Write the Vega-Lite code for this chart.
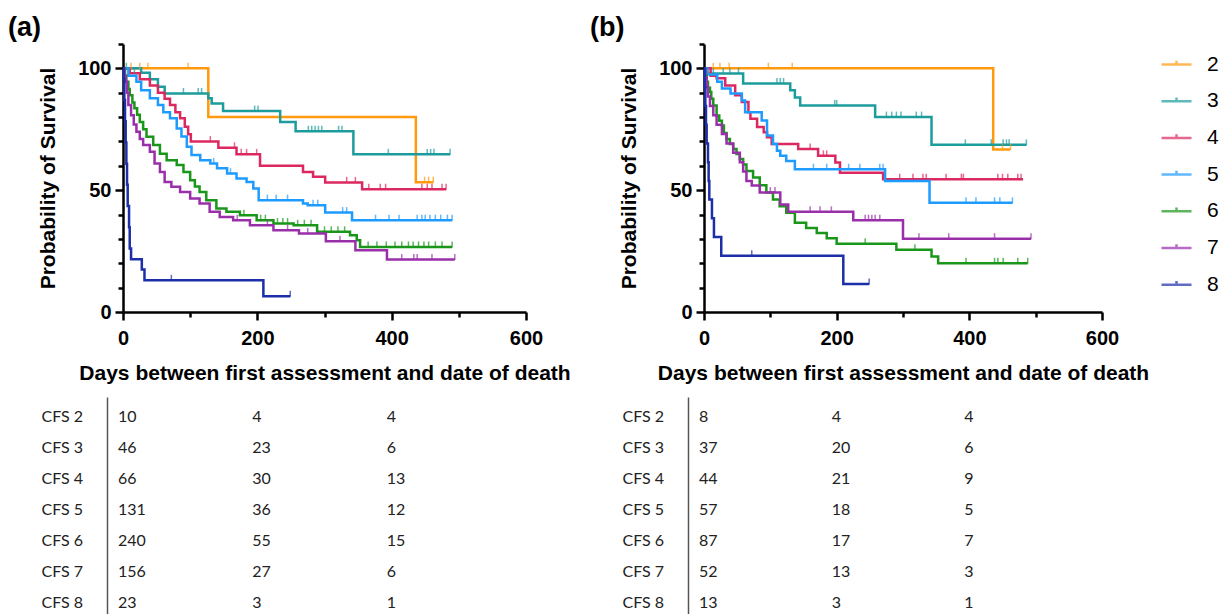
{
  "$schema": "https://vega.github.io/schema/vega-lite/v6.json",
  "background": "white",
  "padding": {"left": 8, "top": 14, "right": 0, "bottom": 0},
  "config": {
    "view": {"stroke": null},
    "font": "Liberation Sans",
    "axis": {
      "domainColor": "black", "tickColor": "black", "domainWidth": 2.5, "tickWidth": 2.5,
      "labelFont": "Liberation Sans", "labelFontWeight": "bold", "labelFontSize": 20, "labelColor": "black",
      "titleFont": "Liberation Sans", "titleFontWeight": "bold", "titleFontSize": 21, "titleColor": "black",
      "grid": false, "labelOverlap": false, "labelFlush": false
    },
    "title": {"font": "Liberation Sans", "fontWeight": "bold", "fontSize": 27, "color": "black", "anchor": "start", "frame": "group"}
  },
  "datasets": {
    "curves": [
      {"panel":"a","cfs":"2","day":0,"surv":100},{"panel":"a","cfs":"2","day":127,"surv":80},{"panel":"a","cfs":"2","day":436,"surv":53.3},{"panel":"a","cfs":"2","day":462,"surv":53.3},
      {"panel":"a","cfs":"3","day":0,"surv":100},{"panel":"a","cfs":"3","day":27,"surv":98.2},{"panel":"a","cfs":"3","day":40,"surv":95.5},{"panel":"a","cfs":"3","day":52,"surv":92.5},{"panel":"a","cfs":"3","day":62,"surv":89.7},{"panel":"a","cfs":"3","day":127,"surv":87.7},{"panel":"a","cfs":"3","day":132,"surv":85.6},{"panel":"a","cfs":"3","day":149,"surv":82.5},{"panel":"a","cfs":"3","day":234,"surv":78},{"panel":"a","cfs":"3","day":257,"surv":74.2},{"panel":"a","cfs":"3","day":343,"surv":64.7},{"panel":"a","cfs":"3","day":487,"surv":64.7},
      {"panel":"a","cfs":"4","day":0,"surv":100},{"panel":"a","cfs":"4","day":10,"surv":98},{"panel":"a","cfs":"4","day":25,"surv":95.5},{"panel":"a","cfs":"4","day":40,"surv":93},{"panel":"a","cfs":"4","day":52,"surv":90},{"panel":"a","cfs":"4","day":62,"surv":87.5},{"panel":"a","cfs":"4","day":70,"surv":85},{"panel":"a","cfs":"4","day":78,"surv":82},{"panel":"a","cfs":"4","day":85,"surv":79.5},{"panel":"a","cfs":"4","day":92,"surv":76},{"panel":"a","cfs":"4","day":97,"surv":73},{"panel":"a","cfs":"4","day":101,"surv":70},{"panel":"a","cfs":"4","day":142,"surv":67.4},{"panel":"a","cfs":"4","day":169,"surv":64.7},{"panel":"a","cfs":"4","day":204,"surv":60},{"panel":"a","cfs":"4","day":268,"surv":57.5},{"panel":"a","cfs":"4","day":283,"surv":55.5},{"panel":"a","cfs":"4","day":301,"surv":53.2},{"panel":"a","cfs":"4","day":356,"surv":50.4},{"panel":"a","cfs":"4","day":481,"surv":50.4},
      {"panel":"a","cfs":"5","day":0,"surv":100},{"panel":"a","cfs":"5","day":8,"surv":97},{"panel":"a","cfs":"5","day":20,"surv":94.5},{"panel":"a","cfs":"5","day":27,"surv":91},{"panel":"a","cfs":"5","day":40,"surv":87.7},{"panel":"a","cfs":"5","day":52,"surv":85},{"panel":"a","cfs":"5","day":60,"surv":82},{"panel":"a","cfs":"5","day":70,"surv":79.5},{"panel":"a","cfs":"5","day":80,"surv":75.3},{"panel":"a","cfs":"5","day":87,"surv":72},{"panel":"a","cfs":"5","day":95,"surv":67.8},{"panel":"a","cfs":"5","day":102,"surv":64.4},{"panel":"a","cfs":"5","day":115,"surv":62.3},{"panel":"a","cfs":"5","day":130,"surv":61},{"panel":"a","cfs":"5","day":140,"surv":59},{"panel":"a","cfs":"5","day":155,"surv":56.8},{"panel":"a","cfs":"5","day":169,"surv":54.8},{"panel":"a","cfs":"5","day":184,"surv":53.4},{"panel":"a","cfs":"5","day":194,"surv":50.7},{"panel":"a","cfs":"5","day":202,"surv":45.9},{"panel":"a","cfs":"5","day":268,"surv":44.5},{"panel":"a","cfs":"5","day":275,"surv":43.8},{"panel":"a","cfs":"5","day":301,"surv":40.8},{"panel":"a","cfs":"5","day":341,"surv":37.7},{"panel":"a","cfs":"5","day":490,"surv":37.7},
      {"panel":"a","cfs":"6","day":0,"surv":100},{"panel":"a","cfs":"6","day":3,"surv":97},{"panel":"a","cfs":"6","day":5,"surv":94.5},{"panel":"a","cfs":"6","day":8,"surv":91.5},{"panel":"a","cfs":"6","day":10,"surv":89},{"panel":"a","cfs":"6","day":14,"surv":86},{"panel":"a","cfs":"6","day":17,"surv":83.6},{"panel":"a","cfs":"6","day":21,"surv":81},{"panel":"a","cfs":"6","day":25,"surv":78},{"panel":"a","cfs":"6","day":30,"surv":75},{"panel":"a","cfs":"6","day":35,"surv":71.9},{"panel":"a","cfs":"6","day":45,"surv":68.5},{"panel":"a","cfs":"6","day":55,"surv":65},{"panel":"a","cfs":"6","day":65,"surv":62.3},{"panel":"a","cfs":"6","day":80,"surv":60.3},{"panel":"a","cfs":"6","day":90,"surv":57.5},{"panel":"a","cfs":"6","day":100,"surv":54.1},{"panel":"a","cfs":"6","day":107,"surv":51.5},{"panel":"a","cfs":"6","day":114,"surv":49.3},{"panel":"a","cfs":"6","day":124,"surv":45.9},{"panel":"a","cfs":"6","day":139,"surv":42.5},{"panel":"a","cfs":"6","day":154,"surv":41.1},{"panel":"a","cfs":"6","day":174,"surv":39.7},{"panel":"a","cfs":"6","day":199,"surv":37.7},{"panel":"a","cfs":"6","day":224,"surv":36.3},{"panel":"a","cfs":"6","day":254,"surv":35.6},{"panel":"a","cfs":"6","day":289,"surv":32.9},{"panel":"a","cfs":"6","day":338,"surv":31.5},{"panel":"a","cfs":"6","day":348,"surv":29.5},{"panel":"a","cfs":"6","day":353,"surv":26.7},{"panel":"a","cfs":"6","day":490,"surv":26.7},
      {"panel":"a","cfs":"7","day":0,"surv":100},{"panel":"a","cfs":"7","day":2,"surv":97},{"panel":"a","cfs":"7","day":4,"surv":94.5},{"panel":"a","cfs":"7","day":6,"surv":90},{"panel":"a","cfs":"7","day":8,"surv":85},{"panel":"a","cfs":"7","day":12,"surv":80.8},{"panel":"a","cfs":"7","day":16,"surv":77},{"panel":"a","cfs":"7","day":20,"surv":74},{"panel":"a","cfs":"7","day":25,"surv":71},{"panel":"a","cfs":"7","day":30,"surv":68.5},{"panel":"a","cfs":"7","day":40,"surv":65.8},{"panel":"a","cfs":"7","day":47,"surv":61},{"panel":"a","cfs":"7","day":55,"surv":57.5},{"panel":"a","cfs":"7","day":62,"surv":53.4},{"panel":"a","cfs":"7","day":72,"surv":51.4},{"panel":"a","cfs":"7","day":85,"surv":49.3},{"panel":"a","cfs":"7","day":100,"surv":46.6},{"panel":"a","cfs":"7","day":114,"surv":44.5},{"panel":"a","cfs":"7","day":129,"surv":41.1},{"panel":"a","cfs":"7","day":144,"surv":39},{"panel":"a","cfs":"7","day":164,"surv":37.7},{"panel":"a","cfs":"7","day":189,"surv":35.6},{"panel":"a","cfs":"7","day":224,"surv":33.6},{"panel":"a","cfs":"7","day":262,"surv":32.2},{"panel":"a","cfs":"7","day":302,"surv":29},{"panel":"a","cfs":"7","day":346,"surv":25.3},{"panel":"a","cfs":"7","day":393,"surv":21.5},{"panel":"a","cfs":"7","day":494,"surv":21.5},
      {"panel":"a","cfs":"8","day":0,"surv":100},{"panel":"a","cfs":"8","day":1,"surv":95.7},{"panel":"a","cfs":"8","day":2,"surv":87},{"panel":"a","cfs":"8","day":3,"surv":78.3},{"panel":"a","cfs":"8","day":4,"surv":69.6},{"panel":"a","cfs":"8","day":5,"surv":60.9},{"panel":"a","cfs":"8","day":6,"surv":52.2},{"panel":"a","cfs":"8","day":7,"surv":43.5},{"panel":"a","cfs":"8","day":9,"surv":34.8},{"panel":"a","cfs":"8","day":10,"surv":26.1},{"panel":"a","cfs":"8","day":12,"surv":21.7},{"panel":"a","cfs":"8","day":28,"surv":17.4},{"panel":"a","cfs":"8","day":32,"surv":13},{"panel":"a","cfs":"8","day":209,"surv":6.5},{"panel":"a","cfs":"8","day":249,"surv":6.5},
      {"panel":"b","cfs":"2","day":0,"surv":100},{"panel":"b","cfs":"2","day":436,"surv":66.7},{"panel":"b","cfs":"2","day":462,"surv":66.7},
      {"panel":"b","cfs":"3","day":0,"surv":100},{"panel":"b","cfs":"3","day":5,"surv":97.9},{"panel":"b","cfs":"3","day":59,"surv":93.8},{"panel":"b","cfs":"3","day":130,"surv":91},{"panel":"b","cfs":"3","day":137,"surv":88},{"panel":"b","cfs":"3","day":145,"surv":84.8},{"panel":"b","cfs":"3","day":258,"surv":80},{"panel":"b","cfs":"3","day":343,"surv":68.6},{"panel":"b","cfs":"3","day":486,"surv":68.6},
      {"panel":"b","cfs":"4","day":0,"surv":100},{"panel":"b","cfs":"4","day":10,"surv":97},{"panel":"b","cfs":"4","day":19,"surv":95.9},{"panel":"b","cfs":"4","day":32,"surv":93},{"panel":"b","cfs":"4","day":47,"surv":89},{"panel":"b","cfs":"4","day":57,"surv":86.2},{"panel":"b","cfs":"4","day":67,"surv":82},{"panel":"b","cfs":"4","day":70,"surv":79.3},{"panel":"b","cfs":"4","day":80,"surv":75.9},{"panel":"b","cfs":"4","day":90,"surv":73.8},{"panel":"b","cfs":"4","day":95,"surv":71.7},{"panel":"b","cfs":"4","day":102,"surv":69},{"panel":"b","cfs":"4","day":142,"surv":66.9},{"panel":"b","cfs":"4","day":172,"surv":64.1},{"panel":"b","cfs":"4","day":198,"surv":61.4},{"panel":"b","cfs":"4","day":205,"surv":57.2},{"panel":"b","cfs":"4","day":270,"surv":54.5},{"panel":"b","cfs":"4","day":481,"surv":54.5},
      {"panel":"b","cfs":"5","day":0,"surv":100},{"panel":"b","cfs":"5","day":5,"surv":97.5},{"panel":"b","cfs":"5","day":20,"surv":94.5},{"panel":"b","cfs":"5","day":27,"surv":91.7},{"panel":"b","cfs":"5","day":40,"surv":89.7},{"panel":"b","cfs":"5","day":57,"surv":86.8},{"panel":"b","cfs":"5","day":62,"surv":82},{"panel":"b","cfs":"5","day":87,"surv":78.6},{"panel":"b","cfs":"5","day":95,"surv":72.4},{"panel":"b","cfs":"5","day":104,"surv":69},{"panel":"b","cfs":"5","day":110,"surv":66.2},{"panel":"b","cfs":"5","day":115,"surv":64.1},{"panel":"b","cfs":"5","day":124,"surv":62},{"panel":"b","cfs":"5","day":137,"surv":58.6},{"panel":"b","cfs":"5","day":273,"surv":53.8},{"panel":"b","cfs":"5","day":340,"surv":44.8},{"panel":"b","cfs":"5","day":465,"surv":44.8},
      {"panel":"b","cfs":"6","day":0,"surv":100},{"panel":"b","cfs":"6","day":2,"surv":97},{"panel":"b","cfs":"6","day":4,"surv":94.5},{"panel":"b","cfs":"6","day":6,"surv":92},{"panel":"b","cfs":"6","day":9,"surv":90.3},{"panel":"b","cfs":"6","day":11,"surv":87.5},{"panel":"b","cfs":"6","day":14,"surv":84.8},{"panel":"b","cfs":"6","day":19,"surv":80.7},{"panel":"b","cfs":"6","day":23,"surv":78.5},{"panel":"b","cfs":"6","day":27,"surv":76.6},{"panel":"b","cfs":"6","day":30,"surv":73.5},{"panel":"b","cfs":"6","day":34,"surv":71},{"panel":"b","cfs":"6","day":39,"surv":69},{"panel":"b","cfs":"6","day":44,"surv":66.9},{"panel":"b","cfs":"6","day":49,"surv":64.8},{"panel":"b","cfs":"6","day":54,"surv":62.8},{"panel":"b","cfs":"6","day":59,"surv":60.5},{"panel":"b","cfs":"6","day":64,"surv":57.9},{"panel":"b","cfs":"6","day":74,"surv":55.2},{"panel":"b","cfs":"6","day":84,"surv":52},{"panel":"b","cfs":"6","day":94,"surv":49},{"panel":"b","cfs":"6","day":104,"surv":46.2},{"panel":"b","cfs":"6","day":114,"surv":43.4},{"panel":"b","cfs":"6","day":124,"surv":40.7},{"panel":"b","cfs":"6","day":137,"surv":36.6},{"panel":"b","cfs":"6","day":154,"surv":34.5},{"panel":"b","cfs":"6","day":170,"surv":32.4},{"panel":"b","cfs":"6","day":185,"surv":30.3},{"panel":"b","cfs":"6","day":200,"surv":28},{"panel":"b","cfs":"6","day":290,"surv":25.5},{"panel":"b","cfs":"6","day":343,"surv":22.8},{"panel":"b","cfs":"6","day":353,"surv":20},{"panel":"b","cfs":"6","day":488,"surv":20},
      {"panel":"b","cfs":"7","day":0,"surv":100},{"panel":"b","cfs":"7","day":2,"surv":96},{"panel":"b","cfs":"7","day":4,"surv":92.3},{"panel":"b","cfs":"7","day":6,"surv":88.5},{"panel":"b","cfs":"7","day":9,"surv":84.6},{"panel":"b","cfs":"7","day":14,"surv":80.8},{"panel":"b","cfs":"7","day":19,"surv":76.9},{"panel":"b","cfs":"7","day":27,"surv":73.1},{"panel":"b","cfs":"7","day":34,"surv":69.2},{"panel":"b","cfs":"7","day":44,"surv":65.4},{"panel":"b","cfs":"7","day":54,"surv":61.5},{"panel":"b","cfs":"7","day":59,"surv":57.7},{"panel":"b","cfs":"7","day":64,"surv":53.8},{"panel":"b","cfs":"7","day":72,"surv":51.9},{"panel":"b","cfs":"7","day":84,"surv":49},{"panel":"b","cfs":"7","day":115,"surv":44.1},{"panel":"b","cfs":"7","day":127,"surv":41.1},{"panel":"b","cfs":"7","day":225,"surv":37.7},{"panel":"b","cfs":"7","day":300,"surv":30.1},{"panel":"b","cfs":"7","day":493,"surv":30.1},
      {"panel":"b","cfs":"8","day":0,"surv":100},{"panel":"b","cfs":"8","day":1,"surv":92.3},{"panel":"b","cfs":"8","day":2,"surv":84.6},{"panel":"b","cfs":"8","day":3,"surv":76.9},{"panel":"b","cfs":"8","day":4,"surv":69.2},{"panel":"b","cfs":"8","day":6,"surv":61.5},{"panel":"b","cfs":"8","day":7,"surv":53.8},{"panel":"b","cfs":"8","day":8,"surv":46.2},{"panel":"b","cfs":"8","day":12,"surv":38.5},{"panel":"b","cfs":"8","day":15,"surv":30.8},{"panel":"b","cfs":"8","day":26,"surv":23.1},{"panel":"b","cfs":"8","day":210,"surv":11.5},{"panel":"b","cfs":"8","day":249,"surv":11.5}
    ],
    "censor": [
      {"panel":"a","cfs":"2","day":12,"surv":100},{"panel":"a","cfs":"2","day":25,"surv":100},{"panel":"a","cfs":"2","day":37,"surv":100},{"panel":"a","cfs":"2","day":97,"surv":100},{"panel":"a","cfs":"2","day":449,"surv":53.3},{"panel":"a","cfs":"2","day":455,"surv":53.3},{"panel":"a","cfs":"2","day":462,"surv":53.3},
      {"panel":"a","cfs":"3","day":5,"surv":100},{"panel":"a","cfs":"3","day":17,"surv":98.2},{"panel":"a","cfs":"3","day":90,"surv":89.7},{"panel":"a","cfs":"3","day":112,"surv":89.7},{"panel":"a","cfs":"3","day":117,"surv":89.7},{"panel":"a","cfs":"3","day":196,"surv":82.5},{"panel":"a","cfs":"3","day":201,"surv":82.5},{"panel":"a","cfs":"3","day":276,"surv":74.2},{"panel":"a","cfs":"3","day":281,"surv":74.2},{"panel":"a","cfs":"3","day":286,"surv":74.2},{"panel":"a","cfs":"3","day":291,"surv":74.2},{"panel":"a","cfs":"3","day":296,"surv":74.2},{"panel":"a","cfs":"3","day":321,"surv":74.2},{"panel":"a","cfs":"3","day":326,"surv":74.2},{"panel":"a","cfs":"3","day":395,"surv":64.7},{"panel":"a","cfs":"3","day":453,"surv":64.7},{"panel":"a","cfs":"3","day":458,"surv":64.7},{"panel":"a","cfs":"3","day":463,"surv":64.7},{"panel":"a","cfs":"3","day":487,"surv":64.7},
      {"panel":"a","cfs":"4","day":130,"surv":70},{"panel":"a","cfs":"4","day":166,"surv":67.4},{"panel":"a","cfs":"4","day":176,"surv":64.7},{"panel":"a","cfs":"4","day":184,"surv":64.7},{"panel":"a","cfs":"4","day":199,"surv":64.7},{"panel":"a","cfs":"4","day":333,"surv":53.2},{"panel":"a","cfs":"4","day":346,"surv":53.2},{"panel":"a","cfs":"4","day":366,"surv":50.4},{"panel":"a","cfs":"4","day":383,"surv":50.4},{"panel":"a","cfs":"4","day":391,"surv":50.4},{"panel":"a","cfs":"4","day":445,"surv":50.4},{"panel":"a","cfs":"4","day":453,"surv":50.4},{"panel":"a","cfs":"4","day":460,"surv":50.4},{"panel":"a","cfs":"4","day":475,"surv":50.4},{"panel":"a","cfs":"4","day":481,"surv":50.4},
      {"panel":"a","cfs":"5","day":135,"surv":61},{"panel":"a","cfs":"5","day":160,"surv":56.8},{"panel":"a","cfs":"5","day":215,"surv":45.9},{"panel":"a","cfs":"5","day":228,"surv":45.9},{"panel":"a","cfs":"5","day":245,"surv":45.9},{"panel":"a","cfs":"5","day":283,"surv":43.8},{"panel":"a","cfs":"5","day":290,"surv":43.8},{"panel":"a","cfs":"5","day":327,"surv":40.8},{"panel":"a","cfs":"5","day":333,"surv":40.8},{"panel":"a","cfs":"5","day":376,"surv":37.7},{"panel":"a","cfs":"5","day":396,"surv":37.7},{"panel":"a","cfs":"5","day":411,"surv":37.7},{"panel":"a","cfs":"5","day":438,"surv":37.7},{"panel":"a","cfs":"5","day":445,"surv":37.7},{"panel":"a","cfs":"5","day":450,"surv":37.7},{"panel":"a","cfs":"5","day":457,"surv":37.7},{"panel":"a","cfs":"5","day":465,"surv":37.7},{"panel":"a","cfs":"5","day":473,"surv":37.7},{"panel":"a","cfs":"5","day":483,"surv":37.7},{"panel":"a","cfs":"5","day":490,"surv":37.7},
      {"panel":"a","cfs":"6","day":180,"surv":39.7},{"panel":"a","cfs":"6","day":205,"surv":37.7},{"panel":"a","cfs":"6","day":212,"surv":37.7},{"panel":"a","cfs":"6","day":230,"surv":36.3},{"panel":"a","cfs":"6","day":238,"surv":36.3},{"panel":"a","cfs":"6","day":245,"surv":36.3},{"panel":"a","cfs":"6","day":260,"surv":35.6},{"panel":"a","cfs":"6","day":270,"surv":35.6},{"panel":"a","cfs":"6","day":280,"surv":35.6},{"panel":"a","cfs":"6","day":300,"surv":32.9},{"panel":"a","cfs":"6","day":310,"surv":32.9},{"panel":"a","cfs":"6","day":320,"surv":32.9},{"panel":"a","cfs":"6","day":330,"surv":32.9},{"panel":"a","cfs":"6","day":365,"surv":26.7},{"panel":"a","cfs":"6","day":378,"surv":26.7},{"panel":"a","cfs":"6","day":392,"surv":26.7},{"panel":"a","cfs":"6","day":405,"surv":26.7},{"panel":"a","cfs":"6","day":415,"surv":26.7},{"panel":"a","cfs":"6","day":425,"surv":26.7},{"panel":"a","cfs":"6","day":432,"surv":26.7},{"panel":"a","cfs":"6","day":440,"surv":26.7},{"panel":"a","cfs":"6","day":448,"surv":26.7},{"panel":"a","cfs":"6","day":455,"surv":26.7},{"panel":"a","cfs":"6","day":465,"surv":26.7},{"panel":"a","cfs":"6","day":475,"surv":26.7},{"panel":"a","cfs":"6","day":490,"surv":26.7},
      {"panel":"a","cfs":"7","day":170,"surv":37.7},{"panel":"a","cfs":"7","day":215,"surv":35.6},{"panel":"a","cfs":"7","day":245,"surv":33.6},{"panel":"a","cfs":"7","day":275,"surv":32.2},{"panel":"a","cfs":"7","day":323,"surv":29},{"panel":"a","cfs":"7","day":415,"surv":21.5},{"panel":"a","cfs":"7","day":433,"surv":21.5},{"panel":"a","cfs":"7","day":438,"surv":21.5},{"panel":"a","cfs":"7","day":460,"surv":21.5},{"panel":"a","cfs":"7","day":494,"surv":21.5},
      {"panel":"a","cfs":"8","day":72,"surv":13},{"panel":"a","cfs":"8","day":249,"surv":6.5},
      {"panel":"b","cfs":"2","day":14,"surv":100},{"panel":"b","cfs":"2","day":24,"surv":100},{"panel":"b","cfs":"2","day":38,"surv":100},{"panel":"b","cfs":"2","day":97,"surv":100},{"panel":"b","cfs":"2","day":133,"surv":100},{"panel":"b","cfs":"2","day":450,"surv":66.7},{"panel":"b","cfs":"2","day":462,"surv":66.7},
      {"panel":"b","cfs":"3","day":14,"surv":97.9},{"panel":"b","cfs":"3","day":29,"surv":97.9},{"panel":"b","cfs":"3","day":39,"surv":97.9},{"panel":"b","cfs":"3","day":52,"surv":97.9},{"panel":"b","cfs":"3","day":110,"surv":93.8},{"panel":"b","cfs":"3","day":115,"surv":93.8},{"panel":"b","cfs":"3","day":120,"surv":93.8},{"panel":"b","cfs":"3","day":197,"surv":84.8},{"panel":"b","cfs":"3","day":200,"surv":84.8},{"panel":"b","cfs":"3","day":275,"surv":80},{"panel":"b","cfs":"3","day":283,"surv":80},{"panel":"b","cfs":"3","day":290,"surv":80},{"panel":"b","cfs":"3","day":297,"surv":80},{"panel":"b","cfs":"3","day":320,"surv":80},{"panel":"b","cfs":"3","day":328,"surv":80},{"panel":"b","cfs":"3","day":394,"surv":68.6},{"panel":"b","cfs":"3","day":433,"surv":68.6},{"panel":"b","cfs":"3","day":451,"surv":68.6},{"panel":"b","cfs":"3","day":456,"surv":68.6},{"panel":"b","cfs":"3","day":460,"surv":68.6},{"panel":"b","cfs":"3","day":486,"surv":68.6},
      {"panel":"b","cfs":"4","day":160,"surv":66.9},{"panel":"b","cfs":"4","day":180,"surv":64.1},{"panel":"b","cfs":"4","day":185,"surv":64.1},{"panel":"b","cfs":"4","day":295,"surv":54.5},{"panel":"b","cfs":"4","day":315,"surv":54.5},{"panel":"b","cfs":"4","day":330,"surv":54.5},{"panel":"b","cfs":"4","day":335,"surv":54.5},{"panel":"b","cfs":"4","day":365,"surv":54.5},{"panel":"b","cfs":"4","day":388,"surv":54.5},{"panel":"b","cfs":"4","day":391,"surv":54.5},{"panel":"b","cfs":"4","day":443,"surv":54.5},{"panel":"b","cfs":"4","day":450,"surv":54.5},{"panel":"b","cfs":"4","day":458,"surv":54.5},{"panel":"b","cfs":"4","day":473,"surv":54.5},{"panel":"b","cfs":"4","day":478,"surv":54.5},
      {"panel":"b","cfs":"5","day":165,"surv":58.6},{"panel":"b","cfs":"5","day":185,"surv":58.6},{"panel":"b","cfs":"5","day":218,"surv":58.6},{"panel":"b","cfs":"5","day":235,"surv":58.6},{"panel":"b","cfs":"5","day":265,"surv":58.6},{"panel":"b","cfs":"5","day":270,"surv":58.6},{"panel":"b","cfs":"5","day":395,"surv":44.8},{"panel":"b","cfs":"5","day":410,"surv":44.8},{"panel":"b","cfs":"5","day":438,"surv":44.8},{"panel":"b","cfs":"5","day":446,"surv":44.8},{"panel":"b","cfs":"5","day":465,"surv":44.8},
      {"panel":"b","cfs":"6","day":243,"surv":28},{"panel":"b","cfs":"6","day":318,"surv":25.5},{"panel":"b","cfs":"6","day":395,"surv":20},{"panel":"b","cfs":"6","day":438,"surv":20},{"panel":"b","cfs":"6","day":443,"surv":20},{"panel":"b","cfs":"6","day":451,"surv":20},{"panel":"b","cfs":"6","day":473,"surv":20},{"panel":"b","cfs":"6","day":488,"surv":20},
      {"panel":"b","cfs":"7","day":100,"surv":49},{"panel":"b","cfs":"7","day":107,"surv":49},{"panel":"b","cfs":"7","day":160,"surv":41.1},{"panel":"b","cfs":"7","day":175,"surv":41.1},{"panel":"b","cfs":"7","day":192,"surv":41.1},{"panel":"b","cfs":"7","day":243,"surv":37.7},{"panel":"b","cfs":"7","day":248,"surv":37.7},{"panel":"b","cfs":"7","day":253,"surv":37.7},{"panel":"b","cfs":"7","day":258,"surv":37.7},{"panel":"b","cfs":"7","day":265,"surv":37.7},{"panel":"b","cfs":"7","day":324,"surv":30.1},{"panel":"b","cfs":"7","day":369,"surv":30.1},{"panel":"b","cfs":"7","day":438,"surv":30.1},{"panel":"b","cfs":"7","day":493,"surv":30.1},
      {"panel":"b","cfs":"8","day":72,"surv":23.1},{"panel":"b","cfs":"8","day":249,"surv":11.5}
    ],
    "risk": [
      {"panel":"a","cfs":"CFS 2","day":0,"n":10},{"panel":"a","cfs":"CFS 2","day":200,"n":4},{"panel":"a","cfs":"CFS 2","day":400,"n":4},
      {"panel":"a","cfs":"CFS 3","day":0,"n":46},{"panel":"a","cfs":"CFS 3","day":200,"n":23},{"panel":"a","cfs":"CFS 3","day":400,"n":6},
      {"panel":"a","cfs":"CFS 4","day":0,"n":66},{"panel":"a","cfs":"CFS 4","day":200,"n":30},{"panel":"a","cfs":"CFS 4","day":400,"n":13},
      {"panel":"a","cfs":"CFS 5","day":0,"n":131},{"panel":"a","cfs":"CFS 5","day":200,"n":36},{"panel":"a","cfs":"CFS 5","day":400,"n":12},
      {"panel":"a","cfs":"CFS 6","day":0,"n":240},{"panel":"a","cfs":"CFS 6","day":200,"n":55},{"panel":"a","cfs":"CFS 6","day":400,"n":15},
      {"panel":"a","cfs":"CFS 7","day":0,"n":156},{"panel":"a","cfs":"CFS 7","day":200,"n":27},{"panel":"a","cfs":"CFS 7","day":400,"n":6},
      {"panel":"a","cfs":"CFS 8","day":0,"n":23},{"panel":"a","cfs":"CFS 8","day":200,"n":3},{"panel":"a","cfs":"CFS 8","day":400,"n":1},
      {"panel":"b","cfs":"CFS 2","day":0,"n":8},{"panel":"b","cfs":"CFS 2","day":200,"n":4},{"panel":"b","cfs":"CFS 2","day":400,"n":4},
      {"panel":"b","cfs":"CFS 3","day":0,"n":37},{"panel":"b","cfs":"CFS 3","day":200,"n":20},{"panel":"b","cfs":"CFS 3","day":400,"n":6},
      {"panel":"b","cfs":"CFS 4","day":0,"n":44},{"panel":"b","cfs":"CFS 4","day":200,"n":21},{"panel":"b","cfs":"CFS 4","day":400,"n":9},
      {"panel":"b","cfs":"CFS 5","day":0,"n":57},{"panel":"b","cfs":"CFS 5","day":200,"n":18},{"panel":"b","cfs":"CFS 5","day":400,"n":5},
      {"panel":"b","cfs":"CFS 6","day":0,"n":87},{"panel":"b","cfs":"CFS 6","day":200,"n":17},{"panel":"b","cfs":"CFS 6","day":400,"n":7},
      {"panel":"b","cfs":"CFS 7","day":0,"n":52},{"panel":"b","cfs":"CFS 7","day":200,"n":13},{"panel":"b","cfs":"CFS 7","day":400,"n":3},
      {"panel":"b","cfs":"CFS 8","day":0,"n":13},{"panel":"b","cfs":"CFS 8","day":200,"n":3},{"panel":"b","cfs":"CFS 8","day":400,"n":1}
    ]
  },
  "spacing": 14,
  "resolve": {"scale": {"color": "shared", "x": "independent", "y": "independent"}},
  "vconcat": [
    {
      "bounds": "flush",
      "spacing": 178,
      "resolve": {"scale": {"x": "independent", "y": "independent"}},
      "hconcat": [
        {
          "title": {"text": "(a)", "dx": -115, "offset": -8},
          "width": 403,
          "height": 268,
          "encoding": {
            "x": {"field": "day", "type": "quantitative", "scale": {"domain": [0, 600], "nice": false},
              "axis": {"title": "Days between first assessment and date of death", "values": [0, 100, 200, 300, 400, 500, 600],
                "labelExpr": "datum.value == 0 ? '0' : datum.value == 200 ? '200' : datum.value == 400 ? '400' : datum.value == 600 ? '600' : ''",
                "labelOverlap": false, "labelFlush": false,
                "tickSize": {"condition": {"test": "datum.value % 200 === 0", "value": 8}, "value": 5},
                "labelPadding": 8, "titlePadding": 14}},
            "y": {"field": "surv", "type": "quantitative", "scale": {"domain": [0, 110], "nice": false},
              "axis": {"title": "Probability of Survival", "values": [0, 10, 20, 30, 40, 50, 60, 70, 80, 90, 100, 110],
                "labelExpr": "datum.value == 0 ? '0' : datum.value == 50 ? '50' : datum.value == 100 ? '100' : ''",
                "labelOverlap": false, "labelFlush": false,
                "tickSize": {"condition": {"test": "datum.value % 50 === 0", "value": 8}, "value": 5},
                "labelPadding": 4, "titlePadding": 19}},
            "color": {"field": "cfs", "type": "nominal",
              "scale": {"domain": ["2", "3", "4", "5", "6", "7", "8"], "range": ["#FF9A0E", "#1C9C9C", "#DC2860", "#1E9BFF", "#1A961A", "#9A2FAA", "#1C2FA8"]},
              "legend": {"title": null, "orient": "right", "offset": 1, "padding": 10, "symbolType": "M-1,0H1M0,0V-0.25", "symbolSize": 900, "symbolStrokeWidth": 2.5, "labelFont": "Liberation Sans", "labelFontSize": 21, "labelColor": "black", "labelOffset": 14, "rowPadding": 14.7, "clipHeight": 21}}
          },
          "layer": [
            {
              "data": {"name": "curves"},
              "transform": [{"filter": "datum.panel === 'a'"}],
              "mark": {"type": "line", "interpolate": "step-after", "strokeWidth": 2.5}
            },
            {
              "data": {"name": "censor"},
              "transform": [{"filter": "datum.panel === 'a'"}],
              "mark": {"type": "tick", "orient": "vertical", "size": 6, "thickness": 1.5, "yOffset": -2.5}
            }
          ]
        },
        {
          "title": {"text": "(b)", "dx": -114, "offset": -8},
          "width": 398,
          "height": 268,
          "encoding": {
            "x": {"field": "day", "type": "quantitative", "scale": {"domain": [0, 600], "nice": false},
              "axis": {"title": "Days between first assessment and date of death", "values": [0, 100, 200, 300, 400, 500, 600],
                "labelExpr": "datum.value == 0 ? '0' : datum.value == 200 ? '200' : datum.value == 400 ? '400' : datum.value == 600 ? '600' : ''",
                "labelOverlap": false, "labelFlush": false,
                "tickSize": {"condition": {"test": "datum.value % 200 === 0", "value": 8}, "value": 5},
                "labelPadding": 8, "titlePadding": 14}},
            "y": {"field": "surv", "type": "quantitative", "scale": {"domain": [0, 110], "nice": false},
              "axis": {"title": "Probability of Survival", "values": [0, 10, 20, 30, 40, 50, 60, 70, 80, 90, 100, 110],
                "labelExpr": "datum.value == 0 ? '0' : datum.value == 50 ? '50' : datum.value == 100 ? '100' : ''",
                "labelOverlap": false, "labelFlush": false,
                "tickSize": {"condition": {"test": "datum.value % 50 === 0", "value": 8}, "value": 5},
                "labelPadding": 4, "titlePadding": 19}},
            "color": {"field": "cfs", "type": "nominal",
              "scale": {"domain": ["2", "3", "4", "5", "6", "7", "8"], "range": ["#FF9A0E", "#1C9C9C", "#DC2860", "#1E9BFF", "#1A961A", "#9A2FAA", "#1C2FA8"]},
              "legend": {"title": null, "orient": "right", "offset": 1, "padding": 10, "symbolType": "M-1,0H1M0,0V-0.25", "symbolSize": 900, "symbolStrokeWidth": 2.5, "labelFont": "Liberation Sans", "labelFontSize": 21, "labelColor": "black", "labelOffset": 14, "rowPadding": 14.7, "clipHeight": 21}}
          },
          "layer": [
            {
              "data": {"name": "curves"},
              "transform": [{"filter": "datum.panel === 'b'"}],
              "mark": {"type": "line", "interpolate": "step-after", "strokeWidth": 2.5}
            },
            {
              "data": {"name": "censor"},
              "transform": [{"filter": "datum.panel === 'b'"}],
              "mark": {"type": "tick", "orient": "vertical", "size": 6, "thickness": 1.5, "yOffset": -2.5}
            }
          ]
        }
      ]
    },
    {
      "bounds": "flush",
      "spacing": 178,
      "resolve": {"scale": {"x": "independent", "y": "independent"}},
      "hconcat": [
        {
          "data": {"name": "risk"},
          "transform": [{"filter": "datum.panel === 'a'"}],
          "width": 403,
          "height": 217,
          "mark": {"type": "text", "align": "left", "baseline": "middle", "dx": -5, "dy": 4, "font": "Lato", "fontSize": 16, "color": "#222222"},
          "encoding": {
            "x": {"field": "day", "type": "quantitative", "scale": {"domain": [0, 600], "nice": false}, "axis": null},
            "y": {"field": "cfs", "type": "nominal", "sort": ["CFS 2", "CFS 3", "CFS 4", "CFS 5", "CFS 6", "CFS 7", "CFS 8"],
              "scale": {"type": "point", "padding": 0.5},
              "axis": {"title": null, "offset": 16, "ticks": false, "tickSize": 0, "domainColor": "#555555", "domainWidth": 1.5,
                "labelAlign": "left", "labelPadding": 66, "labelFont": "Lato", "labelFontSize": 16, "labelFontWeight": "normal", "labelColor": "#222222", "labelOffset": 4}},
            "text": {"field": "n", "type": "quantitative"}
          }
        },
        {
          "data": {"name": "risk"},
          "transform": [{"filter": "datum.panel === 'b'"}],
          "width": 398,
          "height": 217,
          "mark": {"type": "text", "align": "left", "baseline": "middle", "dx": -5, "dy": 4, "font": "Lato", "fontSize": 16, "color": "#222222"},
          "encoding": {
            "x": {"field": "day", "type": "quantitative", "scale": {"domain": [0, 600], "nice": false}, "axis": null},
            "y": {"field": "cfs", "type": "nominal", "sort": ["CFS 2", "CFS 3", "CFS 4", "CFS 5", "CFS 6", "CFS 7", "CFS 8"],
              "scale": {"type": "point", "padding": 0.5},
              "axis": {"title": null, "offset": 16, "ticks": false, "tickSize": 0, "domainColor": "#555555", "domainWidth": 1.5,
                "labelAlign": "left", "labelPadding": 66, "labelFont": "Lato", "labelFontSize": 16, "labelFontWeight": "normal", "labelColor": "#222222", "labelOffset": 4}},
            "text": {"field": "n", "type": "quantitative"}
          }
        }
      ]
    }
  ]
}
